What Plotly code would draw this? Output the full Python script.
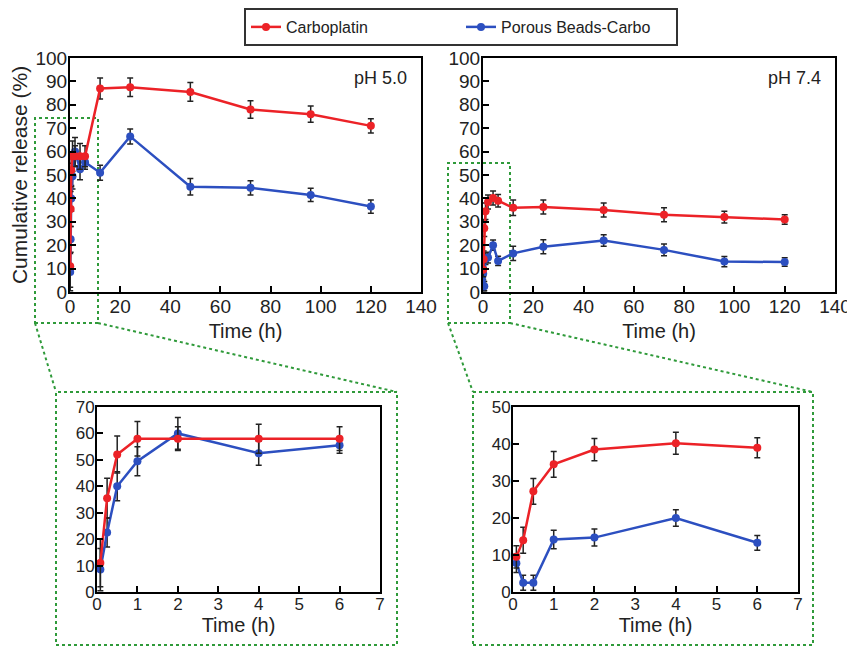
import plotly.graph_objects as go

# ---------------- data ----------------
time_h = [0.083, 0.25, 0.5, 1, 2, 4, 6, 12, 24, 48, 72, 96, 120]
inset_n = 7  # first 7 time points shown in the zoomed insets

carbo_ph5 = [11, 35.5, 52, 58, 58, 58, 58, 87, 87.5, 85.5, 78, 76, 71]
carbo_ph5_err = [9, 7.5, 7, 6.5, 4.5, 5.5, 4.5, 4.5, 4, 4, 3.7, 3.5, 3]
beads_ph5 = [8.5, 22.5, 40, 49.5, 60, 52.5, 55.5, 51, 66.5, 45, 44.5, 41.5, 36.5]
beads_ph5_err = [8, 5.5, 5.5, 5.5, 6, 4.5, 3, 3.2, 3.2, 3.5, 3, 2.8, 2.8]

carbo_ph74 = [9.5, 14, 27.2, 34.5, 38.5, 40.2, 39, 36, 36.3, 35, 33, 32, 31]
carbo_ph74_err = [3, 3.5, 3.5, 3.5, 3, 3, 2.7, 3.3, 3, 3, 3, 2.5, 2]
beads_ph74 = [7.8, 2.5, 2.5, 14.2, 14.7, 20, 13.3, 16.5, 19.3, 22, 18, 13, 12.8]
beads_ph74_err = [2.5, 2, 2, 2.5, 2.3, 2.2, 2, 3, 3, 2.5, 2.5, 2.2, 1.8]

series_names = ["Carboplatin", "Porous Beads-Carbo"]
panel_labels = ["pH 5.0", "pH 7.4"]
main_xticks = [0, 20, 40, 60, 80, 100, 120, 140]
main_yticks = [0, 10, 20, 30, 40, 50, 60, 70, 80, 90, 100]
inset_xticks = [0, 1, 2, 3, 4, 5, 6, 7]
inset5_yticks = [0, 10, 20, 30, 40, 50, 60, 70]
inset74_yticks = [0, 10, 20, 30, 40, 50]

# ---------------- style ----------------
RED = "#ec2227"
BLUE = "#2c4fc0"
GREEN = "#2f9a3a"
TXT = "#222222"
FONT = "Arial, Liberation Sans, sans-serif"
OFF = 8  # default page body margin
W, H = 855 - OFF, 647 - OFF


def px(x):
    return (x - OFF) / W


def py(y):
    return 1 - (y - OFF) / H


fig = go.Figure()

panels = [
    ("x", "y", len(time_h), carbo_ph5, carbo_ph5_err, beads_ph5, beads_ph5_err),
    ("x2", "y2", len(time_h), carbo_ph74, carbo_ph74_err, beads_ph74, beads_ph74_err),
    ("x3", "y3", inset_n, carbo_ph5, carbo_ph5_err, beads_ph5, beads_ph5_err),
    ("x4", "y4", inset_n, carbo_ph74, carbo_ph74_err, beads_ph74, beads_ph74_err),
]

for i, (xa, ya, n, c, ce, b, be) in enumerate(panels):
    for name, vals, errs, col in [(series_names[1], b, be, BLUE), (series_names[0], c, ce, RED)]:
        fig.add_trace(go.Scatter(
            x=time_h[:n], y=vals[:n], xaxis=xa, yaxis=ya,
            mode="lines+markers", name=name,
            line=dict(color=col, width=2.5),
            marker=dict(color=col, size=8, symbol="circle"),
            error_y=dict(type="data", array=errs[:n], color=TXT, thickness=1.5, width=3),
            showlegend=(i == 0), legendrank=(1 if col == RED else 2),
        ))

axis_common = dict(
    showline=True, linecolor="black", linewidth=2, mirror=True,
    ticks="inside", ticklen=6, tickwidth=1.5, tickcolor="black",
    showgrid=False, zeroline=False, automargin=False,
    tickfont=dict(family=FONT, size=19, color=TXT),
)
xcommon = dict(axis_common, ticklabelstandoff=-4)
ycommon = dict(axis_common, ticklabelstandoff=-3)

main_y_dom = [py(292), py(58)]
inset_y_dom = [py(592), py(407)]
inset_tickfont = dict(family=FONT, size=17, color=TXT)
title_font = dict(family=FONT, size=20, color=TXT)

fig.update_layout(
    width=W, height=H,
    margin=dict(l=0, r=0, t=0, b=0, autoexpand=False),
    paper_bgcolor="white", plot_bgcolor="rgba(0,0,0,0)",
    font=dict(family=FONT, color=TXT),
    xaxis=dict(xcommon, domain=[px(70), px(421)], range=[0, 140], tickvals=main_xticks,
               anchor="y", title=dict(text="Time (h)", font=title_font, standoff=8)),
    yaxis=dict(ycommon, domain=main_y_dom, range=[0, 100], tickvals=main_yticks, anchor="x",
               title=dict(text="Cumulative release (%)", font=dict(family=FONT, size=21, color=TXT),
                          standoff=6)),
    xaxis2=dict(xcommon, domain=[px(483), px(835)], range=[0, 140], tickvals=main_xticks,
                anchor="y2", title=dict(text="Time (h)", font=title_font, standoff=8)),
    yaxis2=dict(ycommon, domain=main_y_dom, range=[0, 100], tickvals=main_yticks, anchor="x2"),
    xaxis3=dict(xcommon, domain=[px(97), px(380)], range=[0, 7], tickvals=inset_xticks,
                anchor="y3", tickfont=inset_tickfont,
                title=dict(text="Time (h)", font=title_font, standoff=5)),
    yaxis3=dict(ycommon, domain=inset_y_dom, range=[0, 70], tickvals=inset5_yticks, anchor="x3",
                tickfont=inset_tickfont),
    xaxis4=dict(xcommon, domain=[px(513), px(798)], range=[0, 7], tickvals=inset_xticks,
                anchor="y4", tickfont=inset_tickfont,
                title=dict(text="Time (h)", font=title_font, standoff=5)),
    yaxis4=dict(ycommon, domain=inset_y_dom, range=[0, 50], tickvals=inset74_yticks, anchor="x4",
                tickfont=inset_tickfont),
    legend=dict(
        orientation="h", x=px(244), y=py(8), xanchor="left", yanchor="top",
        bordercolor="#333333", borderwidth=2, bgcolor="white",
        font=dict(family=FONT, size=16, color=TXT),
        itemwidth=30, entrywidth=170, entrywidthmode="pixels", traceorder="normal",
    ),
)

for xa, ya, label in [("x", "y", panel_labels[0]), ("x2", "y2", panel_labels[1])]:
    fig.add_annotation(text=label, xref=f"{xa} domain", yref=f"{ya} domain",
                       x=0.965, y=0.915, xanchor="right", yanchor="middle", showarrow=False,
                       font=dict(family=FONT, size=18, color=TXT))

green_line = dict(color=GREEN, width=2, dash="dot")
rects = [(35, 118, 98, 323), (448, 163, 510, 323), (56, 392, 397, 645), (473, 392, 813, 645)]
for x0, y0, x1, y1 in rects:
    fig.add_shape(type="rect", xref="paper", yref="paper", x0=px(x0), x1=px(x1), y0=py(y1), y1=py(y0),
                  line=green_line, layer="below")
connectors = [(35, 323, 56, 392), (98, 323, 397, 392), (448, 323, 473, 392), (510, 323, 813, 392)]
for x0, y0, x1, y1 in connectors:
    fig.add_shape(type="line", xref="paper", yref="paper", x0=px(x0), x1=px(x1), y0=py(y0), y1=py(y1),
                  line=green_line, layer="below")

fig.write_html("out.html")
